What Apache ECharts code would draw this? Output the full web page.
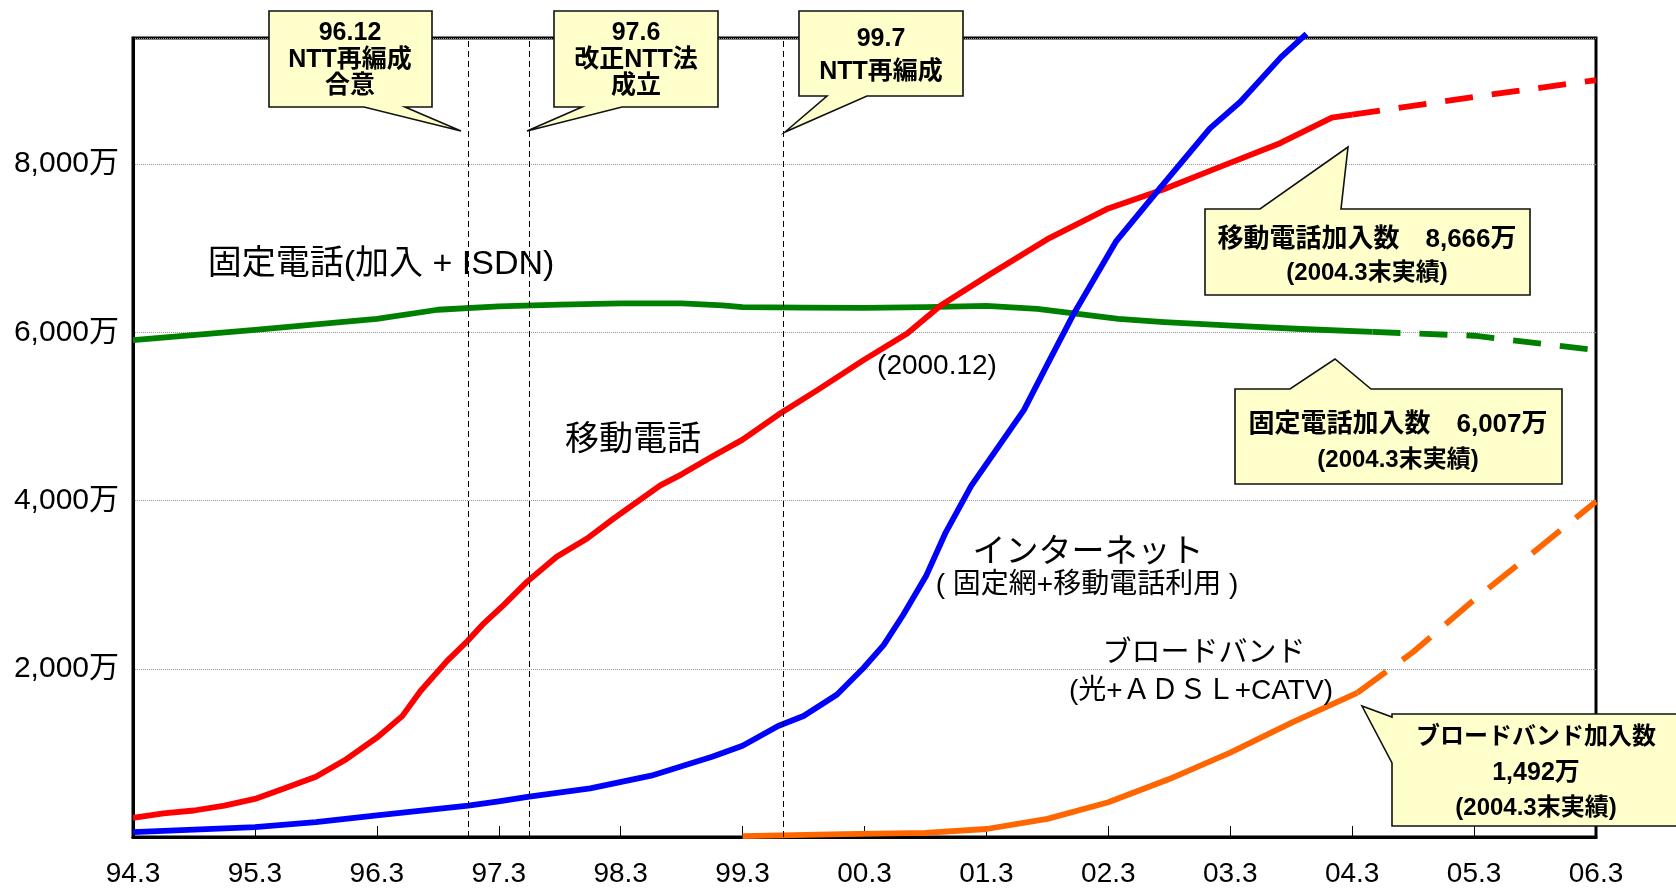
<!DOCTYPE html>
<html>
<head>
<meta charset="utf-8">
<script src="https://cdn.jsdelivr.net/npm/echarts@6/dist/echarts.min.js"></script>
<style>
  html,body{margin:0;padding:0;background:#fff;}
  #chart{width:1676px;height:888px;}
</style>
</head>
<body>
<div id="chart"></div>
<script>
/* 加入者数の推移（94.3〜06.3） x = 94.3 からの月数, y = 万 */

// x 軸目盛（12か月ごと）
var monthLabels = ['94.3','95.3','96.3','97.3','98.3','99.3','00.3','01.3','02.3','03.3','04.3','05.3','06.3'];

// 固定電話（加入 + ISDN）
var fixedActual = [[0,5907],[12,6030],[24,6160],[30,6269],[36,6310],[42,6330],[48,6345],[54,6345],[58,6320],
  [60,6300],[66,6295],[72,6292],[78,6300],[84,6315],[89,6280],[93,6221],[97,6160],[101.5,6122],
  [109.6,6071],[115,6040],[122,6005]];
var fixedForecast = [[122,6005],[132,5960],[144,5790]];

// 移動電話
var mobileActual = [[0,228],[3,280],[6,315],[9,374],[12,453],[15,583],[18,717],[21,925],[24,1181],
  [26.5,1437],[28.3,1736],[30.9,2091],[32.9,2327],[34.4,2524],[36.5,2760],[38.8,3036],[41.7,3332],
  [44.7,3549],[47.3,3785],[51.9,4180],[54,4312],[56.8,4509],[60,4725],[63.5,5020],[67.4,5316],
  [71.9,5670],[76.2,5986],[79.5,6319],[84.4,6694],[90,7108],[96,7474],[101.4,7698],[106.3,7935],
  [112.9,8249],[118,8553],[120,8590]];
var mobileForecast = [[120,8590],[132,8800],[144,9000]];

// インターネット（固定網 + 移動電話利用）
var internetActual = [[0,59],[12,118],[18,177],[24,256],[33,374],[36,425],[39,480],[45,579],[51,729],
  [57,953],[60,1084],[63.5,1320],[66,1438],[69.3,1694],[71.9,2009],[73.9,2285],[75.8,2640],
  [78.1,3113],[80,3623],[82.5,4174],[87.7,5079],[90,5620],[92.6,6222],[96.8,7089],[101.1,7717],
  [106,8426],[109,8742],[113,9273],[115.5,9550]];

// ブロードバンド（光 + ADSL + CATV）
var broadbandActual = [[60,10],[70,35],[78,50],[84,95],[90,216],[96,413],[102,689],[108,1004],
  [114,1358],[120.5,1713]];
var broadbandForecast = [[120.5,1713],[126,2200],[132,2820],[138,3400],[144,3990]];

// 出来事（96.12 / 97.6 / 99.7）
var eventMonths = [33, 39, 64];

var FONT = '"Liberation Sans","Noto Sans CJK JP",sans-serif';

function fmt(v){ return String(v).replace(/\B(?=(\d{3})+(?!\d))/g, ','); }

function lineSeries(data, color, dashed, z, extra){
  var s = {
    type:'line', data:data, symbol:'none', z:z, silent:true,
    lineStyle:{ color:color, width:5.8, type: dashed || 'solid', cap:'butt', join:'round' }
  };
  for(var k in extra) s[k] = extra[k];
  return s;
}

// 吹き出し（レイアウト用ピクセル座標）
var callouts = [
  { pts:[[269,11],[432,11],[432,107],[405,107],[461,131],[364,107],[269,107]],
    lines:[['96.12',350,33,25],['NTT再編成',350,60,25],['合意',350,86,25]] },
  { pts:[[554,11],[718,11],[718,107],[622,107],[527,131],[582,107],[554,107]],
    lines:[['97.6',636,33,25],['改正NTT法',636,60,25],['成立',636,86,25]] },
  { pts:[[799,11],[963,11],[963,96],[867,96],[785,132],[827,96],[799,96]],
    lines:[['99.7',881,39,25],['NTT再編成',881,72,25]] },
  { pts:[[1205,209],[1260,209],[1348,147],[1341,209],[1530,209],[1530,295],[1205,295]],
    lines:[['移動電話加入数　8,666万',1367,240,26],['(2004.3末実績)',1367,273,24]] },
  { pts:[[1235,389],[1290,389],[1335,359],[1371,389],[1562,389],[1562,484],[1235,484]],
    lines:[['固定電話加入数　6,007万',1398,425,26],['(2004.3末実績)',1398,460,24]] },
  { pts:[[1392,714],[1682,714],[1682,826],[1392,826],[1392,763],[1362,706],[1392,717]],
    lines:[['ブロードバンド加入数',1536,737,24],['1,492万',1536,773,25],['(2004.3末実績)',1536,808,24]] }
];

var seriesLabels = [
  ['固定電話(加入 + ISDN)', 381, 265, 34],
  ['移動電話', 633, 441, 34],
  ['(2000.12)', 937, 366, 28],
  ['インターネット', 1088, 553, 33],
  ['( 固定網+移動電話利用 )', 1087, 585, 28],
  ['ブロードバンド', 1204, 654, 29],
  ['(光+ＡＤＳＬ+CATV)', 1201, 691, 28]
];

var graphics = [];
seriesLabels.forEach(function(t){
  graphics.push({ type:'text', x:t[1], y:t[2], z:100,
    style:{ text:t[0], fill:'#000', font:t[3]+'px '+FONT, align:'center', verticalAlign:'middle' } });
});
callouts.forEach(function(c){
  graphics.push({ type:'polygon', z:110, shape:{ points:c.pts },
    style:{ fill:'#FFFFCC', stroke:'#111', lineWidth:1.6 } });
  c.lines.forEach(function(l){
    graphics.push({ type:'text', x:l[1], y:l[2], z:111,
      style:{ text:l[0], fill:'#000', font:'bold '+l[3]+'px '+FONT, align:'center', verticalAlign:'middle' } });
  });
});

var chart = echarts.init(document.getElementById('chart'), null, { renderer:'canvas' });
chart.setOption({
  animation:false,
  backgroundColor:'#fff',
  grid:{ left:133, right:80, top:38, bottom:49, show:true, borderColor:'#000', borderWidth:3 },
  xAxis:{
    type:'value', min:0, max:144, interval:12,
    axisLine:{ lineStyle:{ color:'#000', width:3 } },
    axisTick:{ inside:true, length:11, lineStyle:{ color:'#000', width:1 } },
    axisLabel:{ margin:23, color:'#000', fontSize:28, fontFamily:FONT,
      formatter:function(v){ return monthLabels[Math.round(v/12)] || ''; } },
    splitLine:{ show:false }
  },
  yAxis:{
    type:'value', min:0, max:9500, interval:2000,
    axisLine:{ show:true, lineStyle:{ color:'#000', width:3 } },
    axisTick:{ show:false },
    axisLabel:{ margin:14, color:'#000', fontSize:30, fontFamily:FONT,
      formatter:function(v){ return (v > 0 && v < 9500) ? fmt(v)+'万' : ''; } },
    splitLine:{ lineStyle:{ type:'dotted', color:'#999', width:1 } }
  },
  series:[
    lineSeries(fixedActual, '#008000', null, 2, {
      markLine:{ silent:true, symbol:['none','none'], label:{ show:false },
        lineStyle:{ color:'#000', width:1, type:[6,4] },
        data: eventMonths.map(function(m){ return { xAxis:m }; }) }
    }),
    lineSeries(fixedForecast, '#008000', [28,19], 2),
    lineSeries(mobileActual, '#FF0000', null, 3),
    lineSeries(mobileForecast, '#FF0000', [28,19], 3),
    lineSeries(internetActual, '#0000FF', null, 4, { clip:false }),
    lineSeries(broadbandActual, '#FF6600', null, 3),
    lineSeries(broadbandForecast, '#FF6600', [36,20], 3)
  ],
  graphic:{ elements: graphics }
});
</script>
</body>
</html>
